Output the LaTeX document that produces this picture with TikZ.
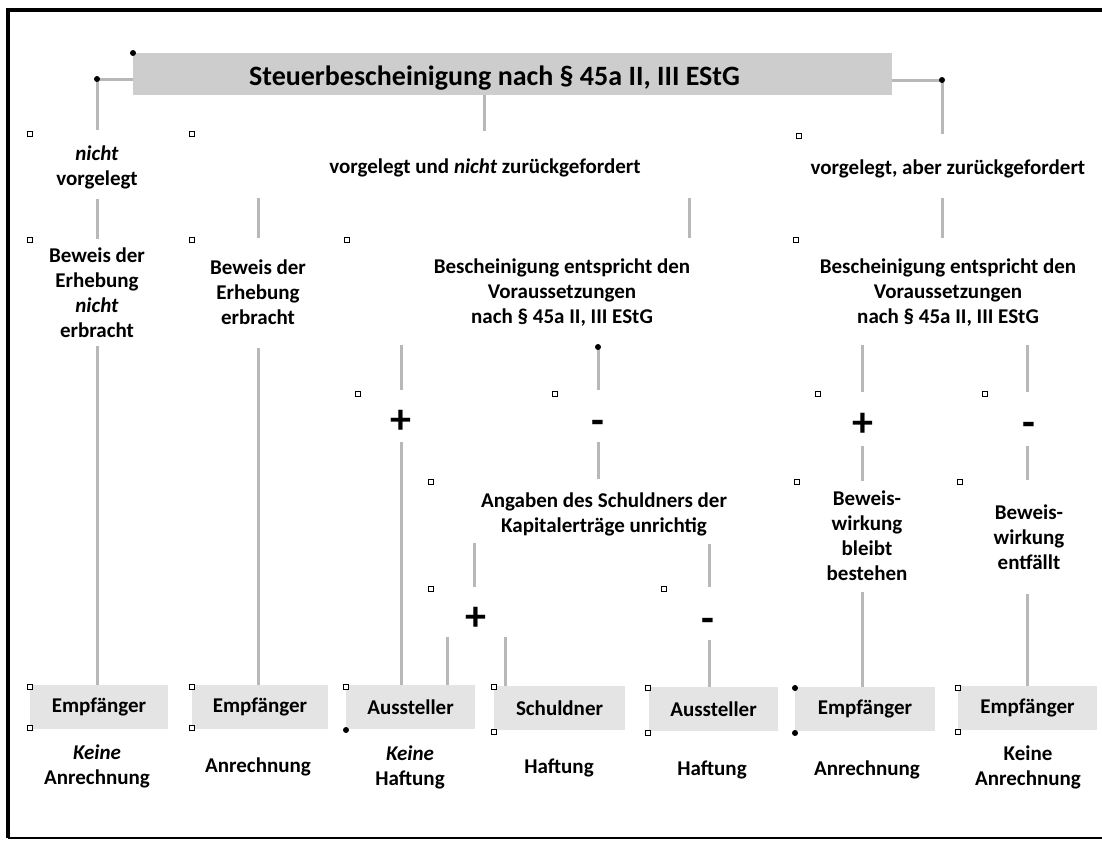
\documentclass[tikz,border=0pt]{standalone}
\usepackage{fontspec}
\setmainfont{Carlito}
\definecolor{cgray}{HTML}{B8B8B8}
\definecolor{tgray}{HTML}{CDCDCD}
\definecolor{bgray}{HTML}{E4E4E4}
\newcommand\cn[5]{\draw[conn,shorten <=#4pt,shorten >=#5pt] (#2.south -| #1) -- (#3.north -| #1);}
\begin{document}
\begin{tikzpicture}[x=1pt,y=-1pt,
  conn/.style={draw=cgray,line width=3pt},
  txt/.style={font=\fontsize{21}{25}\selectfont\bfseries,align=center,inner sep=0pt},
  ttl/.style={font=\fontsize{28}{32}\selectfont\bfseries,inner sep=0pt},
  tbox/.style={fill=tgray,minimum width=759pt,minimum height=42pt,inner sep=0pt},
  obox/.style={fill=bgray,minimum height=44pt,inner sep=0pt,font=\fontsize{21}{25}\selectfont\bfseries},
  pm/.style={font=\fontsize{42}{42}\selectfont\bfseries,inner sep=0pt,text height=24pt,text depth=0pt,minimum height=30pt},
  mk/.style={draw=black,line width=1.3pt,fill=white,minimum size=5pt,inner sep=0pt},
  dot/.style={circle,fill=black,minimum size=6pt,inner sep=0pt}]
\useasboundingbox (0,0) rectangle (1102,841);
% frame
\draw[line width=4pt] (1102,10) -- (8,10) -- (8,838);
\draw[line width=2.5pt] (8,838) -- (1102,838);
% x positions of connectors
\coordinate (xL) at (97,0);
\coordinate (xM) at (484,0);
\coordinate (xR) at (942,0);
\coordinate (xB) at (258,0);
\coordinate (xC) at (689,0);
\coordinate (xP) at (401,0);
\coordinate (xQ) at (598,0);
\coordinate (xS) at (474,0);
\coordinate (xT) at (709,0);
\coordinate (xU) at (447,0);
\coordinate (xV) at (505,0);
\coordinate (xW) at (862,0);
\coordinate (xZ) at (1027,0);
% title
\node[tbox] (T) at (512.5,74) {};
\node[ttl] (Tt) at (494.5,78) {Steuerbescheinigung nach § 45a II, III EStG};
% level 1
\node[txt] (nv) at (97,167) {\textit{nicht}\\vorgelegt};
\node[txt] (vn) at (485,168) {vorgelegt und \textit{nicht} zurückgefordert};
\node[txt] (vz) at (948,169) {vorgelegt, aber zurückgefordert};
% level 2
\node[txt] (b1) at (97,292.5) {Beweis der\\Erhebung\\\textit{nicht}\\erbracht};
\node[txt] (b2) at (258,292.5) {Beweis der\\Erhebung\\erbracht};
\node[txt] (bs1) at (562,293) {Bescheinigung entspricht den\\Voraussetzungen\\nach § 45a II, III EStG};
\node[txt] (bs2) at (948,293) {Bescheinigung entspricht den\\Voraussetzungen\\nach § 45a II, III EStG};
% plus / minus
\node[pm] (p1) at (401,421) {+};
\node[pm] (m1) at (598,422) {-};
\node[pm] (p3) at (863,424) {+};
\node[pm] (m3) at (1029,424) {-};
\node[txt] (ag) at (604,514.5) {Angaben des Schuldners der\\Kapitalerträge unrichtig};
\node[pm] (p2) at (476,618) {+};
\node[pm] (m2) at (708,620) {-};
\node[txt] (bw1) at (867,536) {Beweis-\\wirkung\\bleibt\\bestehen};
\node[txt] (bw2) at (1029,537) {Beweis-\\wirkung\\entfällt};
% bottom boxes
\node[obox,minimum width=138pt] (e1) at (99,707) {Empfänger};
\node[obox,minimum width=136pt] (e2) at (260,707) {Empfänger};
\node[obox,minimum width=129pt] (a1) at (410.5,707) {Aussteller};
\node[obox,minimum width=131pt] (s1) at (559.5,708) {Schuldner};
\node[obox,minimum width=129pt] (a2) at (713.5,709) {Aussteller};
\node[obox,minimum width=140pt] (e3) at (865,709) {Empfänger};
\node[obox,minimum width=139pt] (e4) at (1027.5,708) {Empfänger};
% results
\node[txt] (r1) at (97,766) {\textit{Keine}\\Anrechnung};
\node[txt] (r2) at (258,767) {Anrechnung};
\node[txt] (r3) at (410,767) {\textit{Keine}\\Haftung};
\node[txt] (r4) at (559,768) {Haftung};
\node[txt] (r5) at (712,770) {Haftung};
\node[txt] (r6) at (867,770) {Anrechnung};
\node[txt] (r7) at (1028,767.5) {Keine\\Anrechnung};
% connectors from the title
\draw[conn,shorten >=15pt] ([yshift=-5pt]T.west) -| (nv.north);
\draw[conn,shorten >=28pt] (T.south -| xM) -- (vn.north -| xM);
\draw[conn,shorten >=26pt] ([yshift=-6pt]T.east) -| (vz.north -| xR);
% other connectors
\cn{xL}{nv}{b1}{10}{8}
\cn{xB}{vn}{b2}{21}{22}
\cn{xC}{vn}{bs1}{21}{21}
\cn{xR}{vz}{bs2}{20}{21}
\cn{xL}{b1}{e1}{8}{0}
\cn{xB}{b2}{e2}{23}{0}
\cn{xP}{bs1}{p1}{18}{16}
\cn{xP}{p1}{a1}{6}{0}
\cn{xQ}{bs1}{m1}{18}{17}
\cn{xQ}{m1}{ag}{5}{14}
\cn{xS}{ag}{p2}{7}{16}
\cn{xU}{p2}{a1}{4}{0}
\cn{xV}{p2}{s1}{4}{0}
\cn{xT}{ag}{m2}{8}{18}
\cn{xT}{m2}{a2}{5}{0}
\cn{xW}{bs2}{p3}{18}{17}
\cn{xW}{p3}{bw1}{7}{10}
\cn{xZ}{bs2}{m3}{18}{17}
\cn{xZ}{m3}{bw2}{7}{24}
\cn{xW}{bw1}{e3}{11}{0}
\cn{xZ}{bw2}{e4}{24}{0}
% anchor marks
\foreach \x/\y [count=\i] in {30/134,192/134,799/136,30/240,192/240,347/240,796/240,
  358/394,555/394,818/394,985/394,431/482,797/482,960/482,431/589,664/589,
  30/687,30/728,192/687,192/728,346/687,494/687,494/732,648/688,648/733,958/688,958/732}
  \node[mk] (mk\i) at (\x,\y) {};
\foreach \x/\y [count=\i] in {133/53,97/79,942/80,598/347,346/730,795/688,795/733}
  \node[dot] (dt\i) at (\x,\y) {};
\end{tikzpicture}
\end{document}
